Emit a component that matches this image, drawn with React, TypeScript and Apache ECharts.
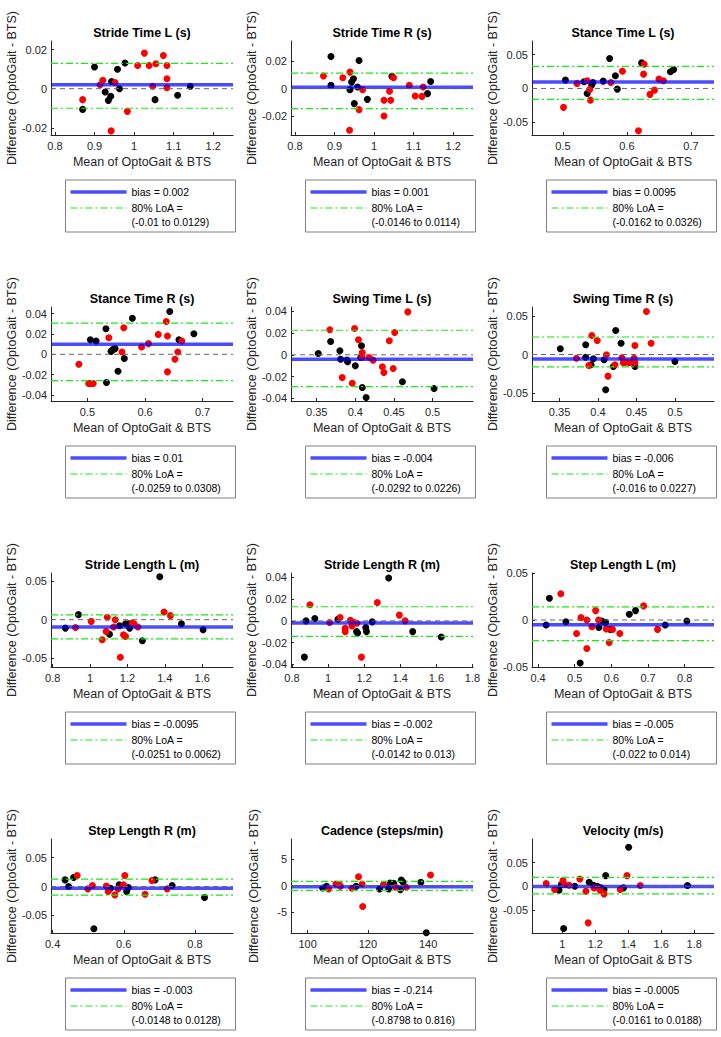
import React, { useEffect, useRef } from 'react';
import * as echarts from 'echarts';

const FONT = 'Liberation Sans, Arial, sans-serif';

const TITLES = [
  'Stride Time L (s)', 'Stride Time R (s)', 'Stance Time L (s)',
  'Stance Time R (s)', 'Swing Time L (s)', 'Swing Time R (s)',
  'Stride Length L (m)', 'Stride Length R (m)', 'Step Length L (m)',
  'Step Length R (m)', 'Cadence (steps/min)', 'Velocity (m/s)',
];

const BIAS = [0.002, 0.001, 0.0095, 0.01, -0.004, -0.006, -0.0095, -0.002, -0.005, -0.003, -0.214, -0.0005];
const LOA_LOW = [-0.01, -0.0146, -0.0162, -0.0259, -0.0292, -0.016, -0.0251, -0.0142, -0.022, -0.0148, -0.8798, -0.0161];
const LOA_HIGH = [0.0129, 0.0114, 0.0326, 0.0308, 0.0226, 0.0227, 0.0062, 0.013, 0.014, 0.0128, 0.816, 0.0188];

// axis limits and ticks
const X_MIN = [0.79, 0.79, 0.4518, 0.4365, 0.3167, 0.3142, 0.791, 0.795, 0.3835, 0.3955, 94.5, 0.816];
const X_MAX = [1.25, 1.25, 0.736, 0.753, 0.5524, 0.5508, 1.765, 1.803, 0.88, 0.907, 154.9, 1.92];
const Y_MIN = [-0.0237, -0.0338, -0.0687, -0.046, -0.0425, -0.0604, -0.0618, -0.0425, -0.05, -0.0803, -8.96, -0.099];
const Y_MAX = [0.0244, 0.0348, 0.07, 0.0466, 0.044, 0.0617, 0.061, 0.0441, 0.05, 0.0822, 8.83, 0.1];
const X_TICKS = [
  [0.8, 0.9, 1, 1.1, 1.2], [0.8, 0.9, 1, 1.1, 1.2], [0.5, 0.6, 0.7],
  [0.5, 0.6, 0.7], [0.35, 0.4, 0.45, 0.5], [0.35, 0.4, 0.45, 0.5],
  [0.8, 1, 1.2, 1.4, 1.6], [0.8, 1, 1.2, 1.4, 1.6, 1.8], [0.4, 0.5, 0.6, 0.7, 0.8],
  [0.4, 0.6, 0.8], [100, 120, 140], [1, 1.2, 1.4, 1.6, 1.8],
];
const Y_TICKS = [
  [-0.02, 0, 0.02], [-0.02, 0, 0.02], [-0.05, 0, 0.05],
  [-0.04, -0.02, 0, 0.02, 0.04], [-0.04, -0.02, 0, 0.02, 0.04], [-0.05, 0, 0.05],
  [-0.05, 0, 0.05], [-0.04, -0.02, 0, 0.02, 0.04], [-0.05, 0, 0.05],
  [-0.05, 0, 0.05], [-5, 0, 5], [-0.05, 0, 0.05],
];

// data points [mean, difference]
const strideTimeL_black = [[0.870,-0.0106],[0.900,0.0111],[0.927,-0.0017],[0.935,-0.006],[0.941,-0.0039],[0.943,0.0037],[0.958,0.0099],[0.963,0],[0.977,0.0131],[1.053,-0.0056],[1.110,-0.0034],[1.142,0.0012]];
const strideTimeL_red = [[0.870,-0.0056],[0.914,0.002],[0.921,0.0043],[0.952,0.0031],[0.942,-0.0216],[0.983,-0.0116],[1.009,0.0119],[1.026,0.0182],[1.038,0.0119],[1.055,0.0128],[1.047,0.0012],[1.074,0.017],[1.083,0.0119],[1.083,0.0051],[1.083,0.0005]];
const strideTimeR_black = [[0.891,0.0235],[0.891,0.0024],[0.943,0.0048],[0.948,0.0073],[0.939,-0.0007],[0.962,0.0206],[0.958,0.0012],[0.950,-0.0109],[0.983,-0.0078],[1.045,0.009],[1.135,-0.0036],[1.143,0.0053]];
const strideTimeR_red = [[0.872,0.0092],[0.921,0.008],[0.939,0.0121],[0.971,-0.0007],[0.962,-0.0153],[0.938,-0.0303],[1.025,-0.0085],[1.025,-0.0199],[1.039,-0.0019],[1.042,-0.0085],[1.049,0.008],[1.089,0.0024],[1.104,-0.0053],[1.121,-0.0056],[1.124,0.0012]];
const stanceTimeL_black = [[0.504,0.0123],[0.533,0.0098],[0.538,-0.0074],[0.545,0.0049],[0.547,0.0088],[0.563,0.0108],[0.573,0.0441],[0.582,0.0186],[0.585,-0.001],[0.623,0.0377],[0.668,0.0245],[0.673,0.0279]];
const stanceTimeL_red = [[0.501,-0.0279],[0.522,0.0074],[0.538,0.0113],[0.542,-0.0015],[0.543,-0.0172],[0.575,0.0088],[0.593,0.0255],[0.618,-0.0623],[0.627,0.0358],[0.626,0.0211],[0.636,-0.0088],[0.643,-0.0025],[0.650,0.0137],[0.657,0.0113]];
const stanceTimeR_black = [[0.505,0.0144],[0.515,0.0131],[0.532,0.0251],[0.533,-0.0278],[0.541,0.0029],[0.544,0.0046],[0.548,0.0056],[0.553,-0.0167],[0.564,-0.0042],[0.578,0.0356],[0.643,0.0421],[0.659,0.0144],[0.685,0.0202]];
const stanceTimeR_red = [[0.485,-0.0098],[0.502,-0.0287],[0.506,-0.0287],[0.510,-0.0287],[0.537,0.0163],[0.560,0.0023],[0.563,0.0261],[0.594,0.0072],[0.606,0.0105],[0.623,0.0196],[0.637,0.0323],[0.639,0.018],[0.639,-0.0173],[0.652,-0.0049],[0.657,0.0023],[0.664,0.0131]];
const swingTimeL_black = [[0.352,0.0012],[0.368,0.0123],[0.380,0.0037],[0.381,-0.004],[0.389,-0.0049],[0.390,-0.0064],[0.400,-0.0101],[0.408,0.0083],[0.407,-0.0025],[0.409,-0.030],[0.414,-0.0392],[0.461,-0.0248],[0.502,-0.031]];
const swingTimeL_red = [[0.367,0.023],[0.383,-0.0208],[0.396,-0.0261],[0.399,0.0242],[0.404,0.0138],[0.409,0.0021],[0.409,-0.0025],[0.418,-0.0025],[0.423,-0.0049],[0.435,-0.011],[0.437,-0.0162],[0.444,0.0129],[0.449,-0.0126],[0.451,0.0205],[0.468,0.0395]];
const swingTimeR_black = [[0.351,0.0074],[0.384,0.0126],[0.384,-0.0035],[0.391,-0.0134],[0.394,-0.0056],[0.408,-0.0069],[0.410,-0.0459],[0.420,-0.0156],[0.423,0.0312],[0.430,0.0147],[0.448,-0.0156],[0.500,-0.0091]];
const swingTimeR_red = [[0.372,-0.0048],[0.388,-0.0143],[0.392,0.0247],[0.399,0.0182],[0.411,-0.0004],[0.413,-0.0281],[0.422,-0.0134],[0.431,-0.0043],[0.433,-0.0108],[0.437,-0.01],[0.441,-0.0108],[0.447,-0.0048],[0.448,0.0117],[0.448,-0.0108],[0.463,0.0558],[0.469,0.0147]];
const strideLengthL_black = [[0.868,-0.011],[0.938,0.0066],[1.104,-0.0189],[1.158,-0.0079],[1.190,-0.0053],[1.208,-0.0053],[1.212,-0.011],[1.280,-0.0276],[1.373,0.0561],[1.489,-0.0053],[1.605,-0.0132]];
const strideLengthL_red = [[0.922,-0.0101],[1.006,-0.0022],[1.065,-0.0263],[1.086,-0.0154],[1.092,0.0031],[1.126,-0.0096],[1.135,0],[1.162,-0.0491],[1.179,-0.0197],[1.190,-0.0219],[1.226,-0.0044],[1.235,-0.0053],[1.256,-0.0096],[1.396,0.0101],[1.430,0.0053]];
const strideLengthR_black = [[0.869,-0.0334],[0.878,0],[0.927,0.0022],[1.055,0.0015],[1.158,-0.0099],[1.164,-0.0111],[1.209,-0.0062],[1.213,-0.0099],[1.245,-0.0009],[1.336,0.0395],[1.469,-0.0099],[1.627,-0.0148]];
const strideLengthR_red = [[0.900,0.0148],[1.009,-0.0015],[1.067,0.0031],[1.095,-0.0068],[1.095,-0.0099],[1.124,0.0006],[1.133,-0.0046],[1.145,-0.0015],[1.160,-0.0022],[1.185,-0.0334],[1.273,0.017],[1.395,0.0053],[1.427,0]];
const stepLengthL_black = [[0.422,-0.0054],[0.431,0.0232],[0.476,-0.0018],[0.515,-0.0457],[0.566,-0.0079],[0.574,-0.0011],[0.584,-0.0025],[0.597,-0.01],[0.649,0.0061],[0.666,0.01],[0.747,-0.0054],[0.806,-0.0011]];
const stepLengthL_red = [[0.462,0.0279],[0.505,-0.0143],[0.517,0.0025],[0.533,0],[0.533,-0.0304],[0.547,-0.0071],[0.557,0.01],[0.565,0],[0.586,-0.0096],[0.594,-0.0239],[0.603,-0.01],[0.623,-0.0143],[0.688,0.015],[0.726,-0.01]];
const stepLengthR_black = [[0.435,0.0115],[0.445,0],[0.459,0.0155],[0.516,-0.073],[0.563,-0.0029],[0.587,0.0029],[0.608,-0.0086],[0.613,-0.0017],[0.688,0.0115],[0.736,0.0017],[0.827,-0.019]];
const stepLengthR_red = [[0.469,0.019],[0.499,-0.004],[0.512,0.0017],[0.551,0.0011],[0.556,-0.0086],[0.575,-0.0144],[0.584,-0.004],[0.599,0.0029],[0.603,0.019],[0.660,-0.0132],[0.679,0.0103],[0.722,-0.004]];
const cadence_black = [[105,-0.44],[106.3,-0.13],[106.7,-0.44],[116.1,-0.13],[123.9,-0.63],[126.9,-0.63],[127.4,0.5],[128.6,0.44],[130.8,-0.75],[131.1,1.07],[131.7,0.63],[137.6,0.63],[139.4,-8.9]];
const cadence_red = [[107,-0.63],[109.4,0.31],[110.6,0.13],[110.9,-0.13],[114.7,-0.5],[116.9,1.7],[118.1,0.31],[118.3,-3.96],[125.2,0.19],[129.2,-0.31],[132.8,-0.31],[140.8,2.0]];
const velocity_black = [[0.980,-0.0085],[0.994,0.0035],[1.008,-0.0894],[1.076,0],[1.163,0.0085],[1.188,0.0021],[1.212,0],[1.233,-0.0035],[1.253,-0.007],[1.263,0.0225],[1.371,-0.0035],[1.402,0.0824],[1.759,0.0014]];
const velocity_red = [[0.902,0.0056],[0.953,-0.007],[1.004,0.012],[1.014,0.0035],[1.041,0.0021],[1.106,0.0155],[1.143,-0.0106],[1.157,-0.0775],[1.192,-0.0035],[1.229,-0.0085],[1.253,-0.0162],[1.351,-0.007],[1.392,0.0225],[1.473,0.0014]];

const BLACK_PTS = [strideTimeL_black, strideTimeR_black, stanceTimeL_black, stanceTimeR_black, swingTimeL_black, swingTimeR_black, strideLengthL_black, strideLengthR_black, stepLengthL_black, stepLengthR_black, cadence_black, velocity_black];
const RED_PTS = [strideTimeL_red, strideTimeR_red, stanceTimeL_red, stanceTimeR_red, swingTimeL_red, swingTimeR_red, strideLengthL_red, strideLengthR_red, stepLengthL_red, stepLengthR_red, cadence_red, velocity_red];

// layout
const COL_LEFT = [51, 291, 532];
const ROW_OFFSET = [0, 266, 532, 798];
const PLOT_TOP = 41;
const PLOT_W = 182;
const PLOT_H = 94;

const fmt = (v: number) => String(Math.round(v * 1e6) / 1e6);

export default function App() {
  const ref = useRef<HTMLDivElement>(null);
  useEffect(() => {
    const chart = echarts.init(ref.current!, null, { renderer: 'svg' });
    const grids: any[] = [];
    const xAxes: any[] = [];
    const yAxes: any[] = [];
    const series: any[] = [];
    const graphics: any[] = [];
    for (let i = 0; i < 12; i++) {
      const col = i % 3;
      const row = Math.floor(i / 3);
      const L = COL_LEFT[col];
      const T = PLOT_TOP + ROW_OFFSET[row];
      grids.push({ left: L, top: T, width: PLOT_W, height: PLOT_H, containLabel: false, outerBoundsMode: 'none' });
      const axisCommon = {
        type: 'value',
        gridIndex: i,
        splitLine: { show: false },
        axisLine: { show: true, onZero: false, lineStyle: { color: '#262626', width: 1 } },
        nameLocation: 'middle',
        nameTextStyle: { fontSize: 12.5, color: '#262626', fontFamily: FONT },
      };
      xAxes.push({
        ...axisCommon,
        min: X_MIN[i],
        max: X_MAX[i],
        name: 'Mean of OptoGait & BTS',
        nameGap: 20,
        axisTick: { show: true, inside: true, length: 3, customValues: X_TICKS[i], lineStyle: { color: '#262626' } },
        axisLabel: { customValues: X_TICKS[i], formatter: fmt, fontSize: 11, color: '#262626', margin: 5, fontFamily: FONT },
      });
      yAxes.push({
        ...axisCommon,
        min: Y_MIN[i],
        max: Y_MAX[i],
        name: 'Difference (OptoGait - BTS)',
        nameGap: 31,
        axisTick: { show: true, inside: true, length: 3, customValues: Y_TICKS[i], lineStyle: { color: '#262626' } },
        axisLabel: { customValues: Y_TICKS[i], formatter: fmt, fontSize: 11, color: '#262626', margin: 4, fontFamily: FONT },
      });
      const base = { xAxisIndex: i, yAxisIndex: i, silent: true };
      series.push({ ...base, type: 'scatter', data: BLACK_PTS[i], symbolSize: 7, itemStyle: { color: '#000', opacity: 1 }, clip: false, z: 2 });
      series.push({ ...base, type: 'scatter', data: RED_PTS[i], symbolSize: 7, itemStyle: { color: '#ff0000', opacity: 1 }, clip: false, z: 2 });
      const hline = (v: number) => [[X_MIN[i], v], [X_MAX[i], v]];
      series.push({ ...base, type: 'line', data: hline(BIAS[i]), symbol: 'none', lineStyle: { color: '#0000ff', opacity: 0.7, width: 3.5 }, z: 3 });
      series.push({ ...base, type: 'line', data: hline(LOA_LOW[i]), symbol: 'none', lineStyle: { color: '#11ee11', width: 1.2, type: [7, 3, 2, 3] }, z: 4 });
      series.push({ ...base, type: 'line', data: hline(LOA_HIGH[i]), symbol: 'none', lineStyle: { color: '#11ee11', width: 1.2, type: [7, 3, 2, 3] }, z: 4 });
      series.push({ ...base, type: 'line', data: hline(0), symbol: 'none', lineStyle: { color: '#666666', width: 1, type: [5, 4] }, z: 5 });

      // title
      graphics.push({
        type: 'text', x: L + PLOT_W / 2, y: T - 8,
        style: { text: TITLES[i], fontSize: 12.5, fontWeight: 'bold', fill: '#000', fontFamily: FONT, align: 'center', verticalAlign: 'middle', textAlign: 'center', textVerticalAlign: 'middle' },
      });
      // legend
      const bx = L + 14.5;
      const by = T + 139;
      graphics.push({ type: 'rect', shape: { x: bx, y: by, width: 170, height: 52 }, style: { fill: '#fff', stroke: '#808080', lineWidth: 1 } });
      graphics.push({ type: 'line', shape: { x1: bx + 5, y1: by + 12, x2: bx + 61, y2: by + 12 }, style: { stroke: '#0000ff', opacity: 0.7, lineWidth: 3.5 } });
      graphics.push({ type: 'line', shape: { x1: bx + 5, y1: by + 28, x2: bx + 61, y2: by + 28 }, style: { stroke: '#11ee11', lineWidth: 1.2, lineDash: [7, 3, 2, 3] } });
      const legendTexts = [`bias = ${BIAS[i]}`, '80% LoA =', `(${LOA_LOW[i]} to ${LOA_HIGH[i]})`];
      const legendY = [12, 28, 42];
      legendTexts.forEach((t, k) => {
        graphics.push({
          type: 'text', x: bx + 66, y: by + legendY[k],
          style: { text: t, fontSize: 10.5, fill: '#000', fontFamily: FONT, align: 'left', verticalAlign: 'middle', textAlign: 'left', textVerticalAlign: 'middle' },
        });
      });
    }
    chart.setOption({
      animation: false,
      backgroundColor: '#fff',
      textStyle: { fontFamily: FONT },
      grid: grids,
      xAxis: xAxes,
      yAxis: yAxes,
      series,
      graphic: graphics,
    });
    return () => chart.dispose();
  }, []);
  return <div ref={ref} style={{ position: 'absolute', left: 0, top: 0, width: 721, height: 1037, background: '#fff' }} />;
}
